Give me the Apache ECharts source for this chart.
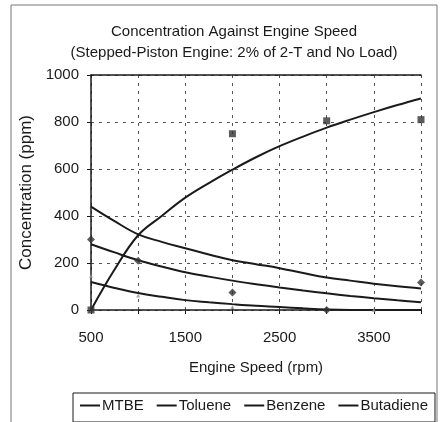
<!DOCTYPE html>
<html>
<head>
<meta charset="utf-8">
<script src="https://cdn.jsdelivr.net/npm/echarts@6/dist/echarts.min.js"></script>
<style>
  html, body { margin: 0; padding: 0; background: #fff; }
  #chart { width: 440px; height: 422px; }
</style>
</head>
<body>
<div id="chart"></div>
<script>
// trend curves (rpm -> ppm)
const speeds = [500, 750, 1000, 1250, 1500, 1750, 2000, 2250, 2500, 2750, 3000, 3250, 3500, 3750, 4000];
const mtbeTrend = [0, 172, 318, 400, 478, 540, 597, 650, 697, 738, 776, 810, 842, 872, 900];
const tolueneTrend = [440, 378, 322, 290, 263, 236, 212, 195, 178, 157, 138, 125, 112, 101, 92];
const benzeneTrend = [280, 245, 212, 185, 161, 142, 125, 110, 96, 83, 71, 60, 50, 41, 33];
const butadieneTrend = [119, 94, 72, 56, 42, 33, 25, 18, 13, 7, 2, 0, 0, 0, 0];

// measured points
const mtbePoints = [[500, 0], [2000, 750], [3000, 805], [4000, 810]];
const benzenePoints = [[500, 300], [1000, 210], [2000, 75], [3000, 0], [4000, 117]];
const butadienePoints = [[500, 145], [1000, 62], [2000, 13], [3500, 0]];

const seriesNames = ['MTBE', 'Toluene', 'Benzene', 'Butadiene'];
const ink = '#1a1a1a';
const font = "'Liberation Sans', Arial, sans-serif";

const pair = vals => speeds.map((s, i) => [s, vals[i]]);

const trend = (name, vals) => ({
  name: name,
  type: 'line',
  data: pair(vals),
  smooth: 0.4,
  showSymbol: false,
  lineStyle: { color: ink, width: 2 },
  itemStyle: { color: ink },
  z: 3
});

const option = {
  animation: false,
  backgroundColor: '#fff',
  textStyle: { fontFamily: font },
  title: {
    text: 'Concentration Against Engine Speed\n(Stepped-Piston Engine: 2% of 2-T and No Load)',
    left: 229,
    top: 16,
    textAlign: 'center',
    textStyle: { fontFamily: font, fontSize: 15, fontWeight: 'normal', color: ink, lineHeight: 21 }
  },
  graphic: [{
    type: 'rect',
    shape: { x: 11, y: 5, width: 426, height: 430 },
    style: { fill: 'none', stroke: '#777', lineWidth: 1 },
    silent: true
  }],
  legend: {
    data: seriesNames,
    left: 73,
    top: 393,
    borderColor: ink,
    borderWidth: 1,
    padding: [5, 7, 9, 7],
    itemGap: 13,
    itemWidth: 20,
    itemHeight: 2,
    icon: 'rect',
    itemStyle: { color: ink },
    textStyle: { fontFamily: font, fontSize: 15, color: ink, padding: [0, 0, 0, -3] }
  },
  grid: { left: 91, right: 19, top: 75, bottom: 112 },
  xAxis: [{
    type: 'value',
    min: 500,
    max: 4000,
    interval: 500,
    name: 'Engine Speed (rpm)',
    nameLocation: 'middle',
    nameGap: 50,
    nameTextStyle: { fontFamily: font, fontSize: 15, color: ink },
    axisLine: { show: true, lineStyle: { color: ink, width: 1.5 } },
    axisTick: { show: true, length: 4, lineStyle: { color: ink } },
    axisLabel: {
      margin: 20,
      fontFamily: font,
      fontSize: 15,
      color: ink,
      formatter: v => (v % 1000 === 500 ? String(v) : '')
    },
    splitLine: { show: true, lineStyle: { color: '#555', type: [3, 5], width: 1 } }
  }, {
    type: 'value',
    position: 'top',
    min: 500,
    max: 4000,
    interval: 500,
    axisLine: { show: true, lineStyle: { color: ink, width: 1.5 } },
    axisTick: { show: false },
    axisLabel: { show: false },
    splitLine: { show: false }
  }],
  yAxis: {
    type: 'value',
    min: 0,
    max: 1000,
    interval: 200,
    name: 'Concentration (ppm)',
    nameLocation: 'middle',
    nameGap: 51,
    nameTextStyle: { fontFamily: font, fontSize: 17, color: ink },
    axisLine: { show: true, lineStyle: { color: ink, width: 1.5 } },
    axisTick: { show: true, length: 4, lineStyle: { color: ink } },
    axisLabel: { margin: 12, fontFamily: font, fontSize: 15, color: ink, formatter: v => String(v) },
    splitLine: { show: true, lineStyle: { color: '#555', type: [3, 5], width: 1 } }
  },
  series: [
    trend('MTBE', mtbeTrend),
    trend('Toluene', tolueneTrend),
    trend('Benzene', benzeneTrend),
    trend('Butadiene', butadieneTrend),
    {
      name: 'MTBE data',
      type: 'scatter',
      data: mtbePoints,
      symbol: 'rect',
      symbolSize: 7,
      itemStyle: { color: '#333' },
      z: 4
    },
    {
      name: 'Benzene data',
      type: 'scatter',
      data: benzenePoints,
      symbol: 'diamond',
      symbolSize: 8,
      itemStyle: { color: '#333' },
      z: 4
    },
    {
      name: 'Butadiene data',
      type: 'scatter',
      data: butadienePoints,
      symbol: 'triangle',
      symbolSize: 4,
      itemStyle: { color: '#999' },
      z: 4
    }
  ]
};

const chart = echarts.init(document.getElementById('chart'));
chart.setOption(option);
</script>
</body>
</html>
